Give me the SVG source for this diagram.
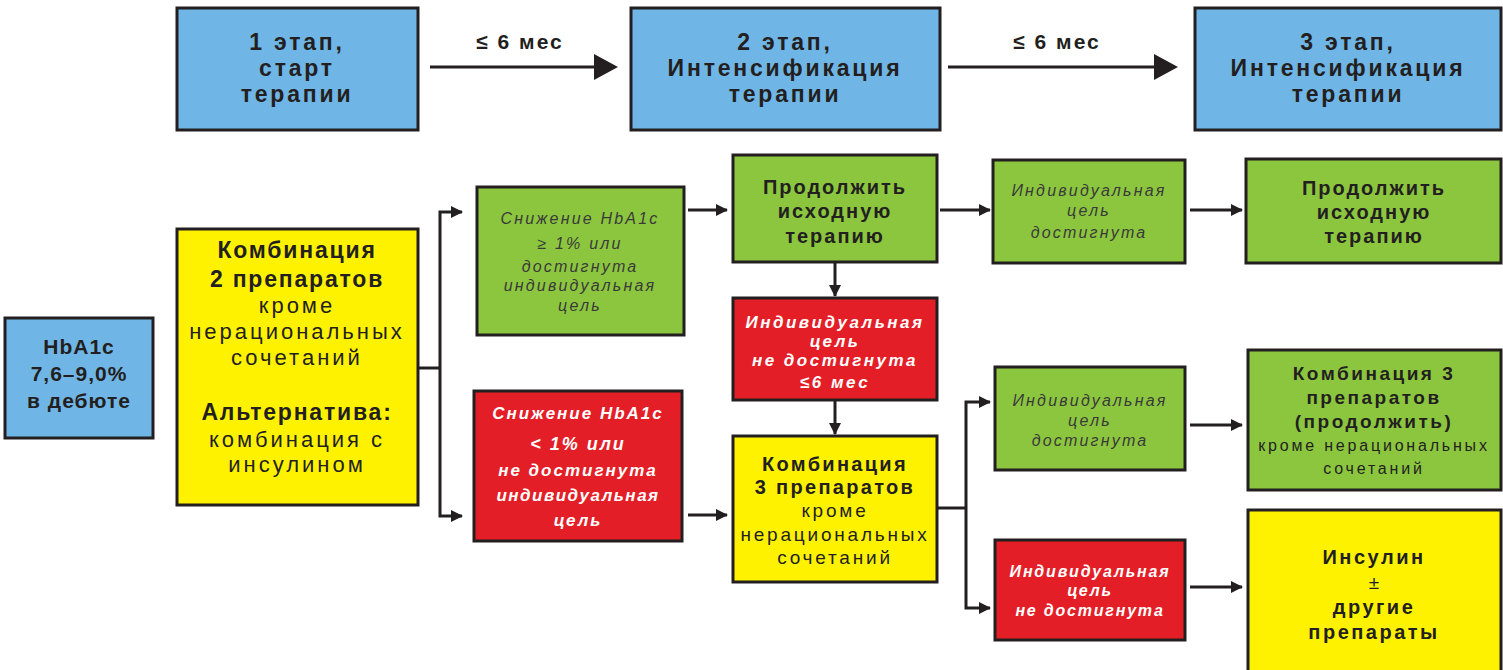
<svg xmlns="http://www.w3.org/2000/svg" width="1503" height="670" viewBox="0 0 1503 670">
<style>
.box{stroke:#231f20;stroke-width:3}
.blue{fill:#6fb6e6}
.green{fill:#8cc63f}
.red{fill:#e41e26}
.yellow{fill:#fff200}
text{font-family:"Liberation Sans",Arial,sans-serif;text-anchor:middle;fill:#231f20}
.hd{font-weight:bold;font-size:23px;letter-spacing:2.8px}
.bd{font-weight:bold}
.it{font-style:italic;fill:#3a3a3a;font-size:16px;letter-spacing:2.2px}
.wi{font-style:italic;font-weight:bold;fill:#ffffff}
.ln{stroke:#231f20;stroke-width:3;fill:none}
</style>
<defs>
<marker id="ah" markerUnits="userSpaceOnUse" markerWidth="12" markerHeight="12" refX="11" refY="6" orient="auto">
<path d="M0,0 L12,6 L0,12 z" fill="#231f20"/>
</marker>
</defs>
<rect width="1503" height="670" fill="#ffffff"/>

<g id="connectors">
<line class="ln" x1="430" y1="67" x2="598" y2="67"/>
<polygon points="594,54 618,67 594,80" fill="#231f20"/>
<text x="520" y="49" class="bd" font-size="21" letter-spacing="2">≤ 6 мес</text>
<line class="ln" x1="948" y1="67" x2="1158" y2="67"/>
<polygon points="1154,54 1178,67 1154,80" fill="#231f20"/>
<text x="1057" y="49" class="bd" font-size="21" letter-spacing="2">≤ 6 мес</text>

<polyline class="ln" points="418,368 440,368"/>
<polyline class="ln" points="440,368 440,212 462,212" marker-end="url(#ah)"/>
<polyline class="ln" points="440,368 440,516 462,516" marker-end="url(#ah)"/>
<line class="ln" x1="688" y1="210" x2="727" y2="210" marker-end="url(#ah)"/>
<line class="ln" x1="835" y1="262" x2="835" y2="296" marker-end="url(#ah)"/>
<line class="ln" x1="835" y1="400" x2="835" y2="434" marker-end="url(#ah)"/>
<line class="ln" x1="688" y1="515" x2="727" y2="515" marker-end="url(#ah)"/>
<line class="ln" x1="940" y1="210" x2="990" y2="210" marker-end="url(#ah)"/>
<line class="ln" x1="1190" y1="210" x2="1242" y2="210" marker-end="url(#ah)"/>
<polyline class="ln" points="937,508 966,508"/>
<polyline class="ln" points="966,508 966,402 990,402" marker-end="url(#ah)"/>
<polyline class="ln" points="966,508 966,608 990,608" marker-end="url(#ah)"/>
<line class="ln" x1="1190" y1="425" x2="1242" y2="425" marker-end="url(#ah)"/>
<line class="ln" x1="1190" y1="587" x2="1242" y2="587" marker-end="url(#ah)"/>
</g>

<g id="stage1">
<rect class="box blue" x="177" y="8" width="241" height="122"/>
<text class="hd" x="297" y="50">1 этап,</text>
<text class="hd" x="297" y="76">старт</text>
<text class="hd" x="297" y="102">терапии</text>
</g>
<g id="stage2">
<rect class="box blue" x="631" y="8" width="309" height="122"/>
<text class="hd" x="785" y="50">2 этап,</text>
<text class="hd" x="785" y="76">Интенсификация</text>
<text class="hd" x="785" y="102">терапии</text>
</g>
<g id="stage3">
<rect class="box blue" x="1195" y="8" width="306" height="122"/>
<text class="hd" x="1348" y="50">3 этап,</text>
<text class="hd" x="1348" y="76">Интенсификация</text>
<text class="hd" x="1348" y="102">терапии</text>
</g>

<g id="hba1c">
<rect class="box blue" x="5" y="318" width="148" height="120"/>
<text class="bd" x="79" y="354" font-size="21" letter-spacing="1">HbA1c</text>
<text class="bd" x="79" y="381" font-size="21" letter-spacing="1">7,6–9,0%</text>
<text class="bd" x="79" y="408" font-size="21" letter-spacing="1">в дебюте</text>
</g>

<g id="combo2">
<rect class="box yellow" x="177" y="229" width="241" height="276"/>
<text class="bd" x="297" y="258" font-size="23" letter-spacing="1.8">Комбинация</text>
<text class="bd" x="297" y="287" font-size="23" letter-spacing="1.8">2 препаратов</text>
<text x="297" y="313" font-size="22" letter-spacing="3">кроме</text>
<text x="297" y="339" font-size="22" letter-spacing="3">нерациональных</text>
<text x="297" y="365" font-size="22" letter-spacing="3">сочетаний</text>
<text class="bd" x="297" y="420" font-size="23" letter-spacing="1.8">Альтернатива:</text>
<text x="297" y="447" font-size="22" letter-spacing="3">комбинация с</text>
<text x="297" y="472" font-size="22" letter-spacing="3">инсулином</text>
</g>

<g id="decrease-ok">
<rect class="box green" x="477" y="187" width="207" height="148"/>
<text class="it" x="580" y="224" font-size="17" letter-spacing="2.1">Снижение HbA1c</text>
<text class="it" x="580" y="249" font-size="17" letter-spacing="2.1">≥ 1% или</text>
<text class="it" x="580" y="272" font-size="17" letter-spacing="2.1">достигнута</text>
<text class="it" x="580" y="291" font-size="17" letter-spacing="1">индивидуальная</text>
<text class="it" x="580" y="311" font-size="17" letter-spacing="2.1">цель</text>
</g>

<g id="decrease-fail">
<rect class="box red" x="474" y="391" width="208" height="150"/>
<text class="wi" x="578" y="419" font-size="17" letter-spacing="2">Снижение HbA1c</text>
<text class="wi" x="578" y="450" font-size="18" letter-spacing="2">&lt; 1% или</text>
<text class="wi" x="578" y="476" font-size="17" letter-spacing="2">не достигнута</text>
<text class="wi" x="578" y="501" font-size="17" letter-spacing="1.5">индивидуальная</text>
<text class="wi" x="578" y="526" font-size="17" letter-spacing="2">цель</text>
</g>

<g id="continue1">
<rect class="box green" x="733" y="155" width="204" height="107"/>
<text class="bd" x="835" y="194" font-size="20" letter-spacing="2">Продолжить</text>
<text class="bd" x="835" y="218" font-size="20" letter-spacing="2">исходную</text>
<text class="bd" x="835" y="243" font-size="20" letter-spacing="2">терапию</text>
</g>

<g id="notreached6">
<rect class="box red" x="733" y="298" width="204" height="102"/>
<text class="wi" x="835" y="328" font-size="17" letter-spacing="2.5">Индивидуальная</text>
<text class="wi" x="835" y="347" font-size="17" letter-spacing="2.5">цель</text>
<text class="wi" x="835" y="366" font-size="17" letter-spacing="2.5">не достигнута</text>
<text class="wi" x="835" y="388" font-size="17" letter-spacing="2.5">≤6 мес</text>
</g>

<g id="combo3">
<rect class="box yellow" x="733" y="436" width="204" height="146"/>
<text class="bd" x="835" y="471" font-size="20" letter-spacing="2.3">Комбинация</text>
<text class="bd" x="835" y="494" font-size="20" letter-spacing="2.3">3 препаратов</text>
<text x="835" y="517" font-size="19" letter-spacing="2.8">кроме</text>
<text x="835" y="541" font-size="19" letter-spacing="2.8">нерациональных</text>
<text x="835" y="564" font-size="19" letter-spacing="2.8">сочетаний</text>
</g>

<g id="reached1">
<rect class="box green" x="993" y="160" width="192" height="103"/>
<text class="it" x="1089" y="196">Индивидуальная</text>
<text class="it" x="1089" y="216">цель</text>
<text class="it" x="1089" y="238">достигнута</text>
</g>

<g id="continue2">
<rect class="box green" x="1246" y="159" width="255" height="104"/>
<text class="bd" x="1374" y="195" font-size="20" letter-spacing="2">Продолжить</text>
<text class="bd" x="1374" y="219" font-size="20" letter-spacing="2">исходную</text>
<text class="bd" x="1374" y="243" font-size="20" letter-spacing="2">терапию</text>
</g>

<g id="reached2">
<rect class="box green" x="995" y="367" width="190" height="103"/>
<text class="it" x="1090" y="406">Индивидуальная</text>
<text class="it" x="1090" y="426">цель</text>
<text class="it" x="1090" y="446">достигнута</text>
</g>

<g id="combo3-continue">
<rect class="box green" x="1248" y="350" width="253" height="140"/>
<text class="bd" x="1374" y="380" font-size="19" letter-spacing="2.5">Комбинация 3</text>
<text class="bd" x="1374" y="404" font-size="19" letter-spacing="2.5">препаратов</text>
<text class="bd" x="1374" y="428" font-size="19" letter-spacing="2.5">(продолжить)</text>
<text x="1374" y="451" font-size="16" letter-spacing="2.8">кроме нерациональных</text>
<text x="1374" y="474" font-size="16" letter-spacing="2.8">сочетаний</text>
</g>

<g id="notreached">
<rect class="box red" x="995" y="540" width="190" height="100"/>
<text class="wi" x="1090" y="577" font-size="16" letter-spacing="1.8">Индивидуальная</text>
<text class="wi" x="1090" y="596" font-size="16" letter-spacing="1.8">цель</text>
<text class="wi" x="1090" y="616" font-size="16" letter-spacing="1.8">не достигнута</text>
</g>

<g id="insulin">
<rect class="box yellow" x="1248" y="510" width="253" height="170"/>
<text class="bd" x="1374" y="564" font-size="20" letter-spacing="2.5">Инсулин</text>
<text x="1374" y="589" font-size="19">±</text>
<text class="bd" x="1374" y="614" font-size="20" letter-spacing="2.5">другие</text>
<text class="bd" x="1374" y="639" font-size="20" letter-spacing="2.5">препараты</text>
</g>
</svg>
